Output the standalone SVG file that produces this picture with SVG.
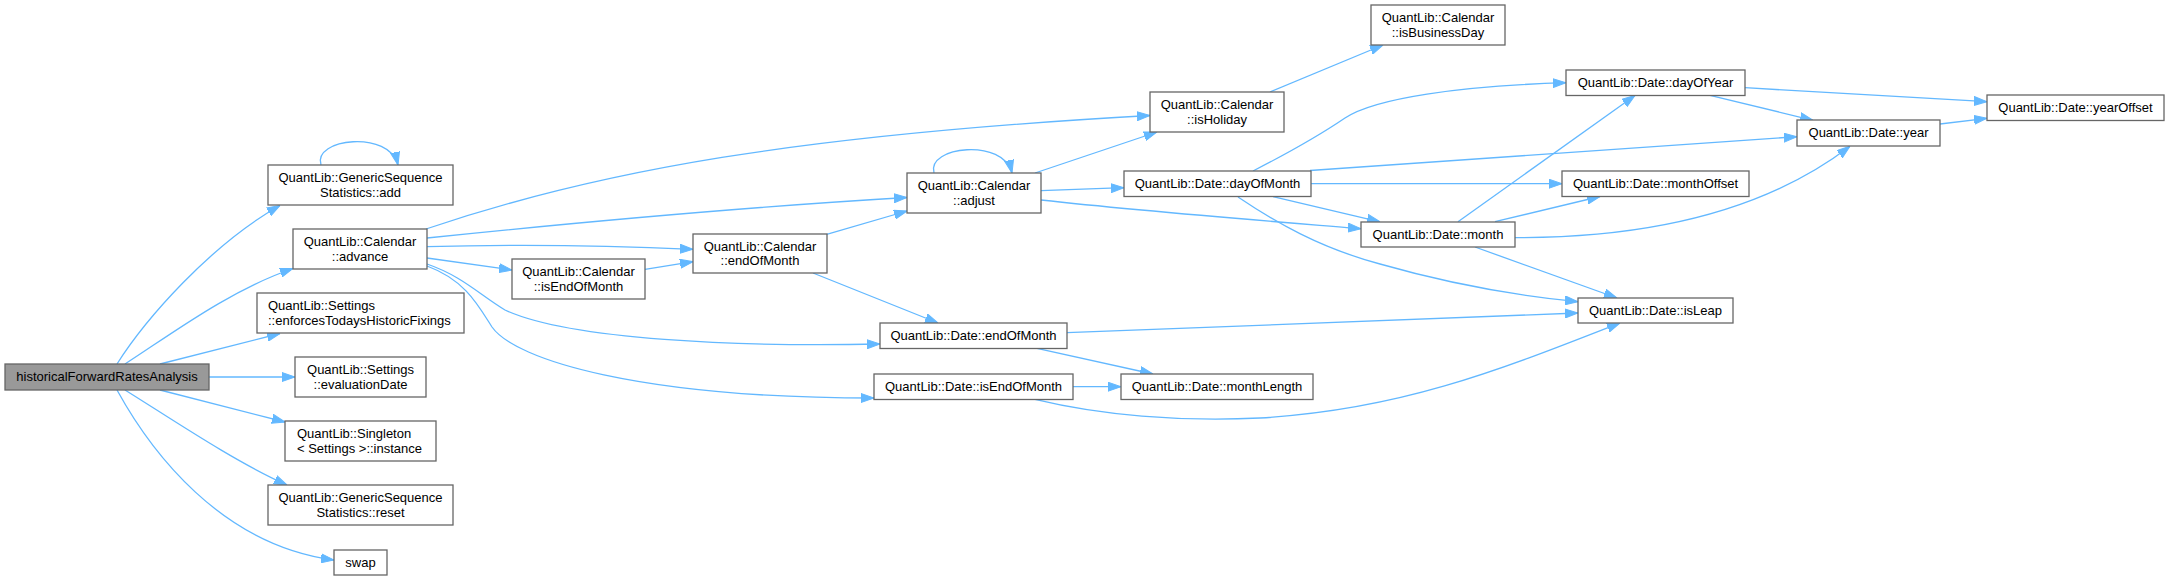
<svg xmlns="http://www.w3.org/2000/svg" width="2169" height="581" viewBox="0 0 2169 581">
<style>
.n rect{fill:#ffffff;stroke:#666666;stroke-width:1.3}
.n text{font-family:"Liberation Sans",Arial,sans-serif;font-size:13px;fill:#000000;text-anchor:middle}
.n text.l{text-anchor:start}
#n_hist rect{fill:#999999}
.e path{fill:none;stroke:#63b8ff;stroke-width:1.3;marker-end:url(#ah)}
</style>
<defs>
<marker id="ah" viewBox="0 0 13 10" markerWidth="13" markerHeight="10" refX="13" refY="5" orient="auto" markerUnits="userSpaceOnUse">
<path d="M0,0.5 L13,5 L0,9.5z" fill="#63b8ff" stroke="#63b8ff" stroke-width="1"/>
</marker>
</defs>
<rect width="2169" height="581" fill="#ffffff"/>
<g id="edges" class="e">
<path d="M117,364 C145,320 210,245 280,205.5"/>
<path d="M125,364 C170,335 230,290 293,268.5"/>
<path d="M160,364 L280,333.5"/>
<path d="M209,377 L295,377"/>
<path d="M160,390 L285,422"/>
<path d="M125,390 C170,418 235,462 287,485"/>
<path d="M117,390 C150,450 220,545 334,560"/>
<path d="M321,165 C312,138 390,130 398,165"/>
<path d="M426,229 C600,170 800,135 1150,115.5"/>
<path d="M427,238 C600,220 780,205 907,197.5"/>
<path d="M427,246.7 C520,244 620,246 693,249.3"/>
<path d="M427,258 L512,270"/>
<path d="M645,269.3 L693,261.7"/>
<path d="M826.7,234.3 L907,211"/>
<path d="M813,273 L938,323"/>
<path d="M427,264 C462,276 480,295 505,310 C570,340 740,347 880,344"/>
<path d="M427,266 C465,280 478,305 492,327 C515,360 640,398 874,398"/>
<path d="M934,173 C926,146 1004,138 1012,173"/>
<path d="M1035,173 L1157,132"/>
<path d="M1041,190.7 L1124,187.7"/>
<path d="M1041,200 C1150,212 1280,222 1361,228.7"/>
<path d="M1270,92 L1383,45"/>
<path d="M1253,171 C1290,152 1320,135 1345,118 C1375,98 1460,86 1566,82.7"/>
<path d="M1310,170.5 L1797,136.7"/>
<path d="M1311,183.7 L1562,183.7"/>
<path d="M1273,196.7 L1380,221.8"/>
<path d="M1238,197 C1275,222 1320,248 1380,264 C1450,284 1520,296 1578,301.7"/>
<path d="M1458,221.7 L1635,95.5"/>
<path d="M1495,221.7 L1600,196.5"/>
<path d="M1515,237.7 C1640,238 1760,215 1850,146.3"/>
<path d="M1475,247 L1617,298"/>
<path d="M1745,87.7 L1987,101.7"/>
<path d="M1710,95.3 L1813,120.3"/>
<path d="M1940,124 L1987,118.3"/>
<path d="M1067,332.7 L1578,313"/>
<path d="M1037,348.3 L1153,374"/>
<path d="M1073,386.7 L1121,386.7"/>
<path d="M1035,399.3 C1100,415 1180,422 1260,418 C1400,410 1500,370 1620,323"/>
</g>
<g id="n_hist" class="n"><rect x="5" y="364" width="204" height="26"/><text x="107" y="381">historicalForwardRatesAnalysis</text></g>
<g id="n_add" class="n"><rect x="268" y="165" width="185" height="40"/><text x="360.5" y="181.8">QuantLib::GenericSequence</text><text x="360.5" y="196.5">Statistics::add</text></g>
<g id="n_advance" class="n"><rect x="293" y="229" width="134" height="40"/><text x="360" y="245.8">QuantLib::Calendar</text><text x="360" y="260.5">::advance</text></g>
<g id="n_enforces" class="n"><rect x="257" y="293" width="207" height="40"/><text class="l" x="268" y="309.8">QuantLib::Settings</text><text class="l" x="268" y="324.5">::enforcesTodaysHistoricFixings</text></g>
<g id="n_evaldate" class="n"><rect x="295" y="357" width="131" height="40"/><text x="360.5" y="373.8">QuantLib::Settings</text><text x="360.5" y="388.5">::evaluationDate</text></g>
<g id="n_instance" class="n"><rect x="285" y="421" width="151" height="40"/><text class="l" x="297" y="437.8">QuantLib::Singleton</text><text class="l" x="297" y="452.5">&lt; Settings &gt;::instance</text></g>
<g id="n_reset" class="n"><rect x="268" y="485" width="185" height="40"/><text x="360.5" y="501.8">QuantLib::GenericSequence</text><text x="360.5" y="516.5">Statistics::reset</text></g>
<g id="n_swap" class="n"><rect x="334" y="550" width="53" height="25"/><text x="360.5" y="567">swap</text></g>
<g id="n_cal_iseom" class="n"><rect x="512" y="259" width="133" height="40"/><text x="578.5" y="275.8">QuantLib::Calendar</text><text x="578.5" y="290.5">::isEndOfMonth</text></g>
<g id="n_cal_eom" class="n"><rect x="693" y="234" width="134" height="39"/><text x="760" y="250.5">QuantLib::Calendar</text><text x="760" y="265.2">::endOfMonth</text></g>
<g id="n_adjust" class="n"><rect x="907" y="173" width="134" height="40"/><text x="974" y="189.8">QuantLib::Calendar</text><text x="974" y="204.5">::adjust</text></g>
<g id="n_isholiday" class="n"><rect x="1150" y="92" width="134" height="40"/><text x="1217" y="108.8">QuantLib::Calendar</text><text x="1217" y="123.5">::isHoliday</text></g>
<g id="n_isbusday" class="n"><rect x="1371" y="5" width="134" height="40"/><text x="1438" y="21.8">QuantLib::Calendar</text><text x="1438" y="36.5">::isBusinessDay</text></g>
<g id="n_date_eom" class="n"><rect x="880" y="323" width="187" height="25.5"/><text x="973.5" y="340">QuantLib::Date::endOfMonth</text></g>
<g id="n_date_iseom" class="n"><rect x="874" y="374" width="199" height="25.5"/><text x="973.5" y="391">QuantLib::Date::isEndOfMonth</text></g>
<g id="n_monthlength" class="n"><rect x="1121" y="374" width="192" height="25.5"/><text x="1217" y="391">QuantLib::Date::monthLength</text></g>
<g id="n_dayofmonth" class="n"><rect x="1124" y="171" width="187" height="25.5"/><text x="1217.5" y="188">QuantLib::Date::dayOfMonth</text></g>
<g id="n_month" class="n"><rect x="1361" y="222" width="154" height="25"/><text x="1438" y="239">QuantLib::Date::month</text></g>
<g id="n_dayofyear" class="n"><rect x="1566" y="70" width="179" height="25.5"/><text x="1655.5" y="87">QuantLib::Date::dayOfYear</text></g>
<g id="n_monthoffset" class="n"><rect x="1562" y="171" width="187" height="25.5"/><text x="1655.5" y="188">QuantLib::Date::monthOffset</text></g>
<g id="n_isleap" class="n"><rect x="1578" y="298" width="155" height="25"/><text x="1655.5" y="315">QuantLib::Date::isLeap</text></g>
<g id="n_year" class="n"><rect x="1797" y="120" width="143" height="26"/><text x="1868.5" y="137">QuantLib::Date::year</text></g>
<g id="n_yearoffset" class="n"><rect x="1987" y="95" width="177" height="25.5"/><text x="2075.5" y="112">QuantLib::Date::yearOffset</text></g>
</svg>
